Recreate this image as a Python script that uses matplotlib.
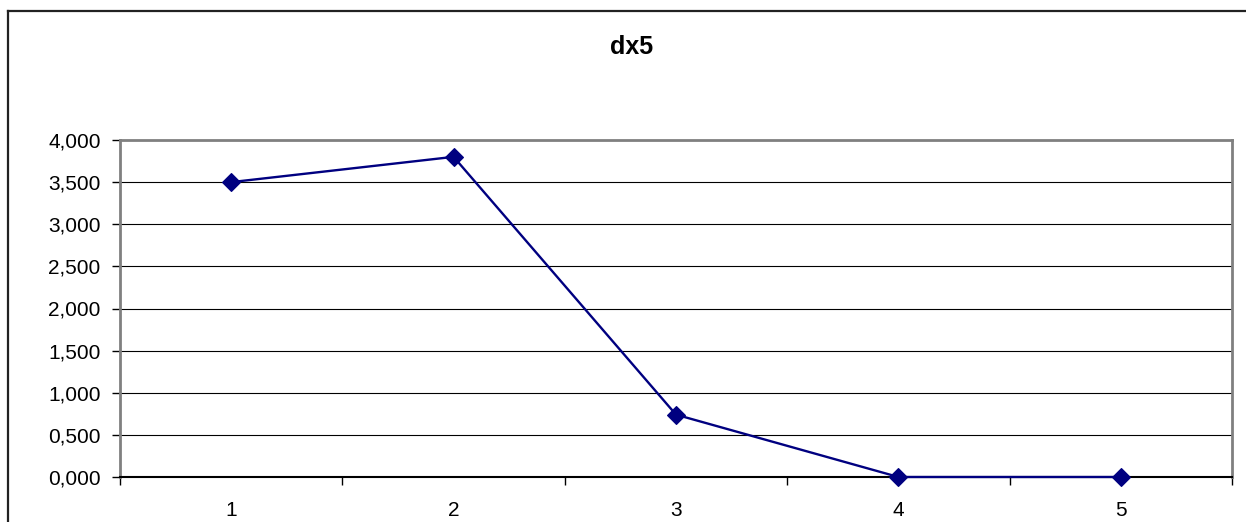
import matplotlib.pyplot as plt
from matplotlib.lines import Line2D
from matplotlib.ticker import FuncFormatter, FixedLocator

plt.rcParams['font.family'] = ['Liberation Sans', 'DejaVu Sans']

categories = ['1', '2', '3', '4', '5']
dx5 = [3.50, 3.80, 0.74, 0.0, 0.0]
y_ticks = [0.0, 0.5, 1.0, 1.5, 2.0, 2.5, 3.0, 3.5, 4.0]

fig = plt.figure(figsize=(12.46, 5.22), dpi=100)
ax = fig.add_axes([120 / 1246, 1 - 477 / 522, 1112 / 1246, 337 / 522])

x = list(range(1, len(categories) + 1))
ax.plot(x, dx5, color='#000080', lw=1.7, marker='D', ms=9,
        markerfacecolor='#000080', markeredgecolor='#000080', markeredgewidth=0.8,
        zorder=5, clip_on=False)

ax.set_xlim(0.5, len(categories) + 0.5)
ax.set_ylim(0, 4)

# comma as decimal separator, three decimals
ax.yaxis.set_major_locator(FixedLocator(y_ticks))
ax.yaxis.set_major_formatter(FuncFormatter(lambda v, p: f'{v:.3f}'.replace('.', ',')))
ax.grid(axis='y', color='black', lw=0.8)
ax.set_axisbelow(True)

ax.set_xticks(x)
ax.set_xticklabels(categories)
ax.xaxis.set_minor_locator(FixedLocator([i + 0.5 for i in range(0, len(categories) + 1)]))
ax.tick_params(axis='x', which='major', length=0, pad=17, labelsize=15)
ax.tick_params(axis='x', which='minor', length=6, width=1, color='black')
ax.tick_params(axis='y', length=6, width=1, color='black', pad=8, labelsize=15)

for side in ['left', 'top', 'right']:
    ax.spines[side].set_color('#808080')
    ax.spines[side].set_linewidth(2)
ax.spines['bottom'].set_color('black')
ax.spines['bottom'].set_linewidth(1.5)

fig.text(632 / 1246, 1 - 47 / 522, 'dx5', ha='center', va='center',
         fontsize=18, fontweight='bold')

# chart frame (top and left edges)
fig.add_artist(Line2D([8 / 1246, 8 / 1246], [0, 1 - 11 / 522], color='#222222', lw=1.6,
                      transform=fig.transFigure))
fig.add_artist(Line2D([8 / 1246, 1], [1 - 11 / 522, 1 - 11 / 522], color='#222222', lw=1.6,
                      transform=fig.transFigure))

fig.savefig('out.png', dpi=100)
